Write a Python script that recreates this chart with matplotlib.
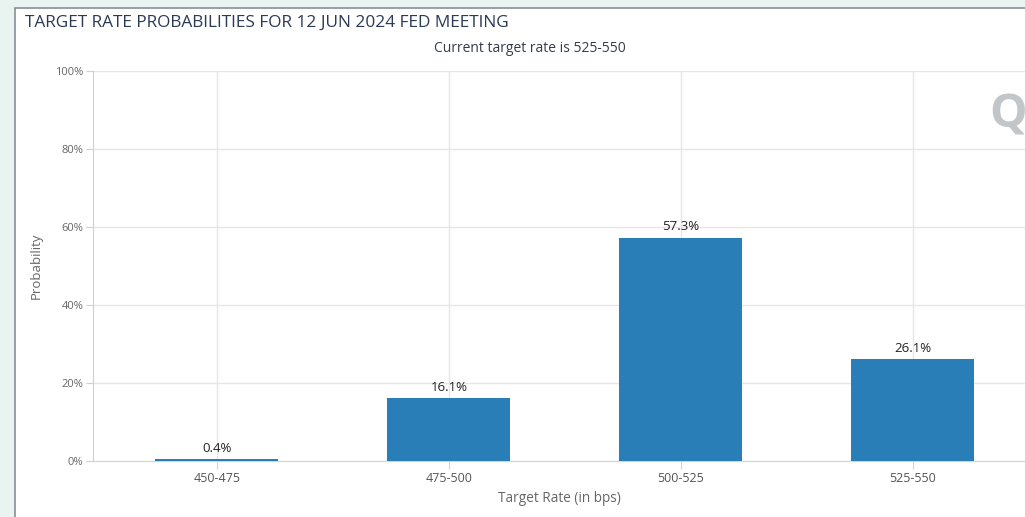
import matplotlib.pyplot as plt
from matplotlib.patches import Rectangle

categories = ['450-475', '475-500', '500-525', '525-550']
probabilities = [0.4, 16.1, 57.3, 26.1]
y_ticks = [0, 20, 40, 60, 80, 100]

plt.rcParams['font.family'] = ['Open Sans', 'DejaVu Sans']

fig = plt.figure(figsize=(10.25, 5.17), dpi=100)
fig.patch.set_facecolor('#e9f3f0')

# white card behind the chart
card = Rectangle((15 / 1025, -0.05), 1.05, (517 - 8) / 517 + 0.05,
                 transform=fig.transFigure, facecolor='white',
                 edgecolor='#8a8f94', linewidth=1.2, zorder=-5)
fig.patches.append(card)

ax = fig.add_axes([93 / 1025, 56 / 517, 1 - 93 / 1025, 390 / 517])
ax.set_facecolor('white')

x = range(len(categories))
bars = ax.bar(x, probabilities, width=0.53, color='#2a7eb8', zorder=3)
for b, v in zip(bars, probabilities):
    ax.annotate(f'{v}%', (b.get_x() + b.get_width() / 2, v),
                xytext=(0, 3), textcoords='offset points',
                ha='center', va='bottom', fontsize=9.5, color='#222222')

ax.set_xlim(-0.534, 3.483)
ax.set_ylim(0, 100)
ax.set_xticks(list(x))
ax.set_xticklabels(categories)
ax.set_yticks(y_ticks)
ax.set_yticklabels([f'{t}%' for t in y_ticks])

ax.grid(True, color='#e6e6e6', linewidth=1, zorder=0)
ax.set_axisbelow(True)
for s in ['top', 'right']:
    ax.spines[s].set_visible(False)
ax.spines['bottom'].set_color('#ccd6e0')
ax.spines['left'].set_color('#d0d0d0')
ax.tick_params(axis='x', colors='#ccd6e0', labelcolor='#555555',
               labelsize=9, length=6, pad=2)
ax.tick_params(axis='y', colors='#d0d0d0', labelcolor='#666666',
               labelsize=8, length=5, pad=2)

ax.set_xlabel('Target Rate (in bps)', fontsize=9.8, color='#666666', labelpad=4)
ax.set_ylabel('Probability', fontsize=9.5, color='#666666', labelpad=9)

fig.text(25 / 1025, 1 - 23 / 517, 'TARGET RATE PROBABILITIES FOR 12 JUN 2024 FED MEETING',
         fontsize=12.4, color='#2b3a55', va='center', ha='left')
fig.text(530 / 1025, 1 - 48 / 517, 'Current target rate is 525-550',
         fontsize=10, color='#333d4a', va='center', ha='center')

# watermark logo
fig.text(1008 / 1025, 1 - 115 / 517, 'Q', fontsize=34, color='#c2c6c8',
         fontweight='bold', ha='center', va='center')

fig.savefig('out.png', dpi=100, facecolor=fig.get_facecolor())
